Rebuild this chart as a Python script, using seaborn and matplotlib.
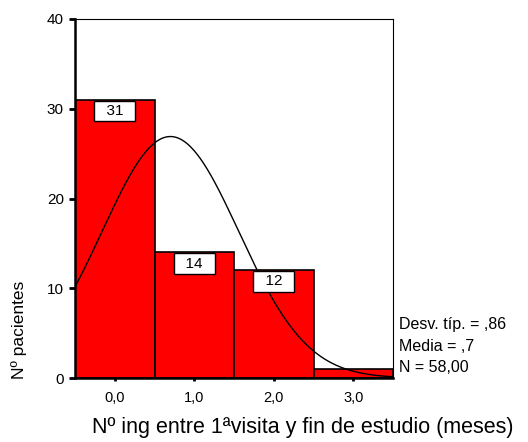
import numpy as np
import pandas as pd
import matplotlib
matplotlib.use("Agg")
import matplotlib.pyplot as plt
import seaborn as sns

# Data
categories = [0, 1, 2, 3]
counts = [31, 14, 12, 1]
tick_labels = ["0,0", "1,0", "2,0", "3,0"]
y_ticks = [0, 10, 20, 30, 40]
stat_mean = 0.7
stat_sd = 0.86
stat_n = 58
stats_text = ["Desv. típ. = ,86", "Media = ,7", "N = 58,00"]
x_label = "Nº ing entre 1ªvisita y fin de estudio (meses)"
y_label = "Nº pacientes"

sns.set_theme(style="white")
plt.rcParams['font.family'] = ['Liberation Sans', 'DejaVu Sans']

fig = plt.figure(figsize=(5.28, 4.42), dpi=100)
ax = fig.add_axes([75/528, 1-378/442, (393-75)/528, (378-19)/442])

df = pd.DataFrame({"x": categories, "n": counts})
sns.histplot(data=df, x="x", weights="n", bins=[-0.5, 0.5, 1.5, 2.5, 3.5],
             color="#ff0000", alpha=1, edgecolor="black", linewidth=1.2, ax=ax)

xs = np.linspace(-0.5, 3.5, 300)
ys = stat_n * 1.0 * np.exp(-0.5 * ((xs - stat_mean) / stat_sd) ** 2) / (stat_sd * np.sqrt(2 * np.pi))
sns.lineplot(x=xs, y=ys, color="black", linewidth=1.0, ax=ax)

for c, v in zip(categories, counts):
    if v >= 5:
        ax.annotate("  " + str(v) + "  ", xy=(c, v), xytext=(0, -3), textcoords="offset points",
                    ha="center", va="top", fontsize=11, color="black",
                    bbox=dict(boxstyle="square,pad=0.22", fc="white", ec="black", lw=1.0),
                    zorder=5)

ax.set_xlim(-0.5, 3.5)
ax.set_ylim(0, 40)
ax.set_xticks(categories)
ax.set_xticklabels(tick_labels, fontsize=10.5)
ax.set_yticks(y_ticks)
ax.set_yticklabels([str(t) for t in y_ticks], fontsize=11)
ax.set_xlabel("")
ax.set_ylabel("")
ax.tick_params(axis="y", direction="out", length=4, width=2, color="black", pad=4, left=True,
               labelcolor="black")
ax.tick_params(axis="x", direction="out", length=2, width=2, color="black", pad=7, bottom=True,
               labelcolor="black")
for s in ["top", "right"]:
    ax.spines[s].set_color("black")
    ax.spines[s].set_linewidth(0.8)
for s in ["left", "bottom"]:
    ax.spines[s].set_color("black")
    ax.spines[s].set_linewidth(1.8)

for i, t in enumerate(stats_text):
    fig.text(399/528, 1 - (325 + i * 21.5)/442, t, fontsize=11.5, va="center", ha="left", color="black")

fig.text(303/528, 1 - 428/442, x_label, fontsize=15.5, ha="center", va="center", color="black")
fig.text(19/528, 1 - 330/442, y_label, fontsize=12.5, ha="center", va="center", rotation=90, color="black")

fig.savefig("out.png", dpi=100)
